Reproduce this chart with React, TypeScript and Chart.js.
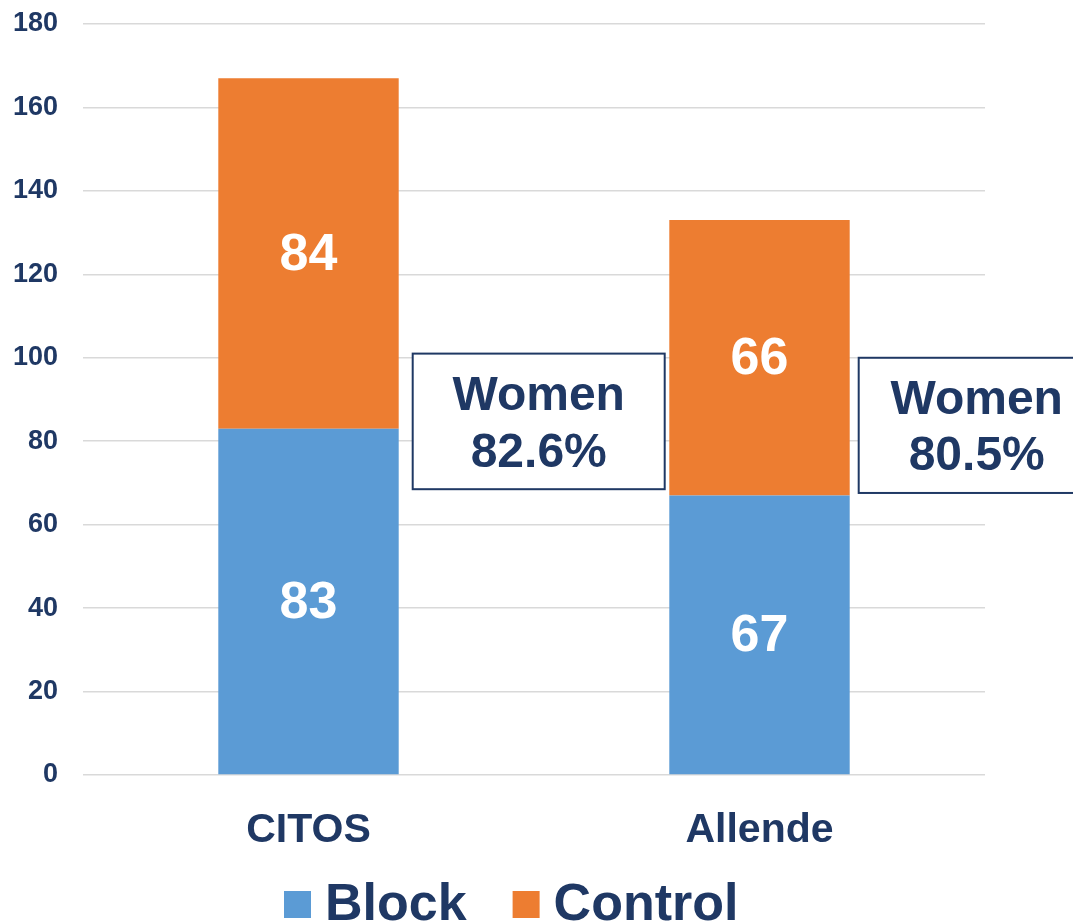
import React, { useEffect, useRef } from "react";
import { Chart, registerables } from "chart.js";

Chart.register(...registerables);

const categories = ["CITOS", "Allende"];
const blockValues = [83, 67];
const controlValues = [84, 66];
const seriesNames = ["Block", "Control"];
const noteLines = [
  ["Women", "82.6%"],
  ["Women", "80.5%"],
];
const yTicks = [0, 20, 40, 60, 80, 100, 120, 140, 160, 180];

const NAVY = "#1F3864";
const BLUE = "#5B9BD5";
const ORANGE = "#ED7D31";
const FONT = "'Liberation Sans', Arial, sans-serif";

const barLabelsPlugin = {
  id: "barLabels",
  afterDatasetsDraw(chart: any) {
    const ctx = chart.ctx;
    ctx.save();
    ctx.fillStyle = "#FFFFFF";
    ctx.font = `bold 52px ${FONT}`;
    ctx.textAlign = "center";
    ctx.textBaseline = "middle";
    chart.data.datasets.forEach((ds: any, di: number) => {
      const meta = chart.getDatasetMeta(di);
      meta.data.forEach((bar: any, i: number) => {
        const yc = (bar.y + bar.base) / 2;
        ctx.fillText(String(ds.data[i]), bar.x, yc + 2);
      });
    });
    ctx.restore();
  },
};

const notesPlugin = {
  id: "notes",
  afterDatasetsDraw(chart: any) {
    const ctx = chart.ctx;
    const ys = chart.scales.y;
    const meta = chart.getDatasetMeta(1);
    const offsets = [14, 9];
    const widths = [252, 236];
    const topVals = [101, 100];
    const botVals = [68.5, 67.6];
    ctx.save();
    meta.data.forEach((bar: any, i: number) => {
      const left = bar.x + bar.width / 2 + offsets[i];
      const top = ys.getPixelForValue(topVals[i]);
      const bottom = ys.getPixelForValue(botVals[i]);
      ctx.fillStyle = "#FFFFFF";
      ctx.fillRect(left, top, widths[i], bottom - top);
      ctx.strokeStyle = NAVY;
      ctx.lineWidth = 2;
      ctx.strokeRect(left, top, widths[i], bottom - top);
      ctx.fillStyle = NAVY;
      ctx.font = `bold 48px ${FONT}`;
      ctx.textAlign = "center";
      ctx.textBaseline = "middle";
      const cx = left + widths[i] / 2;
      const h = bottom - top;
      ctx.fillText(noteLines[i][0], cx, top + h * 0.32);
      ctx.fillText(noteLines[i][1], cx, top + h * 0.735);
    });
    ctx.restore();
  },
};

const legendPlugin = {
  id: "customLegend",
  afterDraw(chart: any) {
    const ctx = chart.ctx;
    ctx.save();
    ctx.font = `bold 52px ${FONT}`;
    ctx.textBaseline = "alphabetic";
    ctx.textAlign = "left";
    let x = 284;
    chart.data.datasets.forEach((ds: any) => {
      ctx.fillStyle = ds.backgroundColor;
      ctx.fillRect(x, 891, 27, 27);
      x += 27 + 14;
      ctx.fillStyle = NAVY;
      ctx.fillText(ds.label, x, 920);
      x += ctx.measureText(ds.label).width + 46;
    });
    ctx.restore();
  },
};

export default function App() {
  const ref = useRef<HTMLCanvasElement>(null);
  useEffect(() => {
    document.body.style.margin = "0";
    const chart = new Chart(ref.current as HTMLCanvasElement, {
      type: "bar",
      data: {
        labels: categories,
        datasets: [
          {
            label: seriesNames[0],
            data: blockValues,
            backgroundColor: BLUE,
            barPercentage: 0.4,
            categoryPercentage: 1,
          },
          {
            label: seriesNames[1],
            data: controlValues,
            backgroundColor: ORANGE,
            barPercentage: 0.4,
            categoryPercentage: 1,
          },
        ],
      },
      options: {
        animation: false,
        responsive: false,
        maintainAspectRatio: false,
        layout: { padding: { top: 24, right: 88, left: 0, bottom: 0 } },
        plugins: {
          legend: { display: false },
          tooltip: { enabled: false },
        },
        scales: {
          x: {
            stacked: true,
            grid: { display: false, drawTicks: false },
            border: { display: false },
            ticks: {
              color: NAVY,
              font: { family: FONT, size: 41, weight: "bold" },
              padding: 31,
            },
            afterFit: (s: any) => {
              s.height = 149;
              s.paddingLeft = 0;
              s.paddingRight = 0;
            },
          },
          y: {
            stacked: true,
            min: 0,
            max: 180,
            afterBuildTicks: (s: any) => {
              s.ticks = yTicks.map((v) => ({ value: v }));
            },
            grid: { color: "#D9D9D9", lineWidth: 1.5, drawTicks: false },
            border: { display: false },
            ticks: {
              color: NAVY,
              font: { family: FONT, size: 27, weight: "bold" },
              padding: 25,
            },
            afterFit: (s: any) => {
              s.width = 83;
              s.paddingTop = 0;
              s.paddingBottom = 0;
            },
          },
        },
      },
      plugins: [barLabelsPlugin, notesPlugin, legendPlugin],
    });
    return () => chart.destroy();
  }, []);
  return <canvas ref={ref} width={1073} height={924} style={{ display: "block" }} />;
}
